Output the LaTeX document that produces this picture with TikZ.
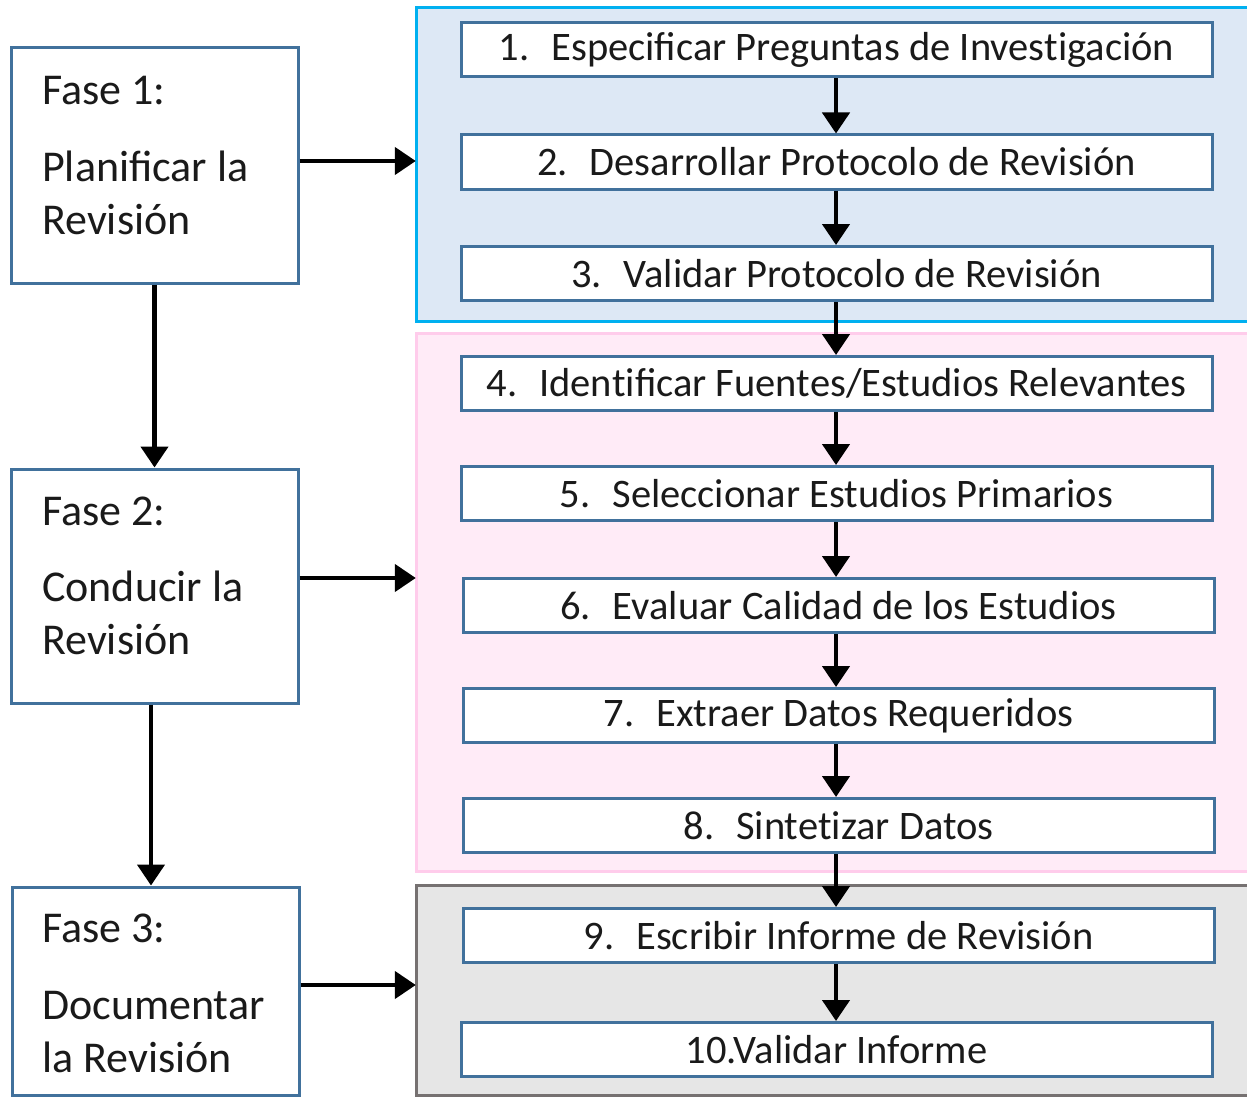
\documentclass[tikz,border=0pt]{standalone}
\usepackage{fontspec}
\setmainfont{Carlito}
\usetikzlibrary{arrows.meta,calc}
\definecolor{stepblue}{HTML}{41719C}
\definecolor{panelblue}{HTML}{DDE8F5}
\definecolor{cyanb}{HTML}{00B0F0}
\definecolor{panelpink}{HTML}{FFEBF7}
\definecolor{pinkb}{HTML}{FFCCEB}
\definecolor{panelgray}{HTML}{E6E6E6}
\definecolor{grayb}{HTML}{767171}
\definecolor{txt}{HTML}{1A1A1A}
\tikzset{
  stepbox/.style={draw=stepblue, line width=3pt, fill=white, minimum width=751pt, minimum height=54pt, inner sep=0pt, font=\fontsize{40.5}{45}\selectfont, text=txt},
  phasebox/.style={draw=stepblue, line width=3pt, fill=white, minimum width=287pt, inner sep=0pt},
  phtext/.style={anchor=base west, inner sep=0pt, font=\fontsize{44}{50}\selectfont, text=txt},
  arr/.style={line width=4.5pt, -{Triangle[length=21pt,width=27pt]}},
  panel/.style={line width=3pt}
}
\newcommand{\numgap}{\hspace{22pt}}
\newcommand{\tiSep}{\mbox{t}i}
\begin{document}
\begin{tikzpicture}[x=1pt,y=-1pt]
\useasboundingbox (0,0) rectangle (1247,1097);
% panels
\path[panel, draw=cyanb, fill=panelblue] (416,8) rectangle (1252,321);
\path[panel, draw=pinkb, fill=panelpink] (416,333) rectangle (1252,871);
\path[panel, draw=grayb, fill=panelgray] (416,885) rectangle (1252,1095);
\node[inner sep=0pt, minimum size=0pt] (blue) at (416,161) {};
\node[inner sep=0pt, minimum size=0pt] (pink) at (416,578) {};
\node[inner sep=0pt, minimum size=0pt] (gray) at (416,985) {};
% steps
\node[stepbox] (s1) at (836.5,50) {1.\numgap Especificar Preguntas de Inves\tiSep gación};
\node[stepbox] (s2) at (836.5,162) {2.\numgap Desarrollar Protocolo de Revisión};
\node[stepbox] (s3) at (836.5,273.5) {3.\numgap Validar Protocolo de Revisión};
\node[stepbox] (s4) at (836.5,383.5) {4.\numgap Iden\tiSep ficar Fuentes/Estudios Relevantes};
\node[stepbox] (s5) at (836.5,493.5) {5.\numgap Seleccionar Estudios Primarios};
\node[stepbox] (s6) at (838.5,605.5) {6.\numgap Evaluar Calidad de los Estudios};
\node[stepbox] (s7) at (838.5,715.5) {7.\numgap Extraer Datos Requeridos};
\node[stepbox] (s8) at (838.5,825.5) {8.\numgap Sinte\tiSep zar Datos};
\node[stepbox] (s9) at (838.5,935.5) {9.\numgap Escribir Informe de Revisión};
\node[stepbox] (s10) at (836.5,1049.5) {10.Validar Informe};
% phase boxes
\node[phasebox, minimum height=235pt] (f1) at (154.5,165.5) {};
\node[phasebox, minimum height=234pt] (f2) at (154.5,586) {};
\node[phasebox, minimum height=208pt] (f3) at (155.5,991) {};
\node[phtext] at (42,105) {Fase 1:};
\node[phtext] at (42,181) {Planificar la};
\node[phtext] at (42,234) {Revisión};
\node[phtext] at (42,525) {Fase 2:};
\node[phtext] at (42,601) {Conducir la};
\node[phtext] at (42,654) {Revisión};
\node[phtext] at (42,942) {Fase 3:};
\node[phtext] at (42,1019) {Documentar};
\node[phtext] at (42,1072) {la Revisión};
% phase arrows
\draw[arr] (f1.east |- blue) -- (blue);
\draw[arr] (f2.east |- pink) -- (pink);
\draw[arr] (f3.east |- gray) -- (gray);
\draw[arr] (f1.south) -- (f1.south |- f2.north);
\draw[arr] ([xshift=-3.5pt]f2.south) -- ([xshift=-3.5pt]f2.south |- f3.north);
% step arrows
\foreach \a/\b in {s1/s2,s2/s3,s3/s4,s4/s5,s5/s6,s6/s7,s7/s8,s8/s9,s9/s10}{
  \draw[arr] (836,0 |- \a.south) -- (836,0 |- \b.north);
}
\end{tikzpicture}
\end{document}
